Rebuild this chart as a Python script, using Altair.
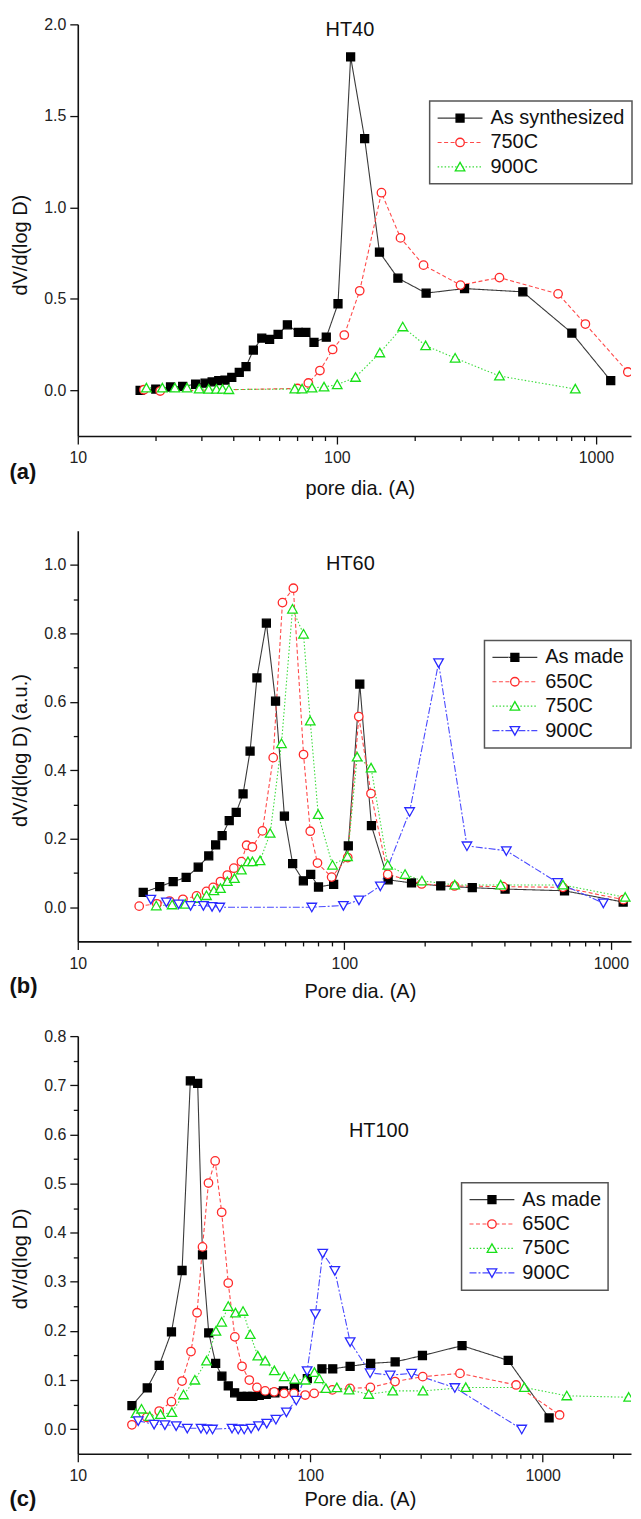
import altair as alt
import pandas as pd

F = "Liberation Sans"

# ---------------- Panel (a) HT40 ----------------
A_NAMES = ["As synthesized", "750C", "900C"]
A_SYN_X = [17.4, 20.0, 22.8, 25.4, 28.5, 31.0, 33.0, 35.0, 37.0, 39.3, 42.0, 44.6, 47.6, 51.3, 55.0,
           59.3, 64.4, 71.0, 75.9, 81.6, 91.0, 101, 113, 128, 146, 172, 221, 311, 522, 807, 1140]
A_SYN_Y = [0.0, 0.007, 0.018, 0.022, 0.033, 0.039, 0.046, 0.053, 0.056, 0.07, 0.098, 0.13, 0.22, 0.285, 0.278,
           0.305, 0.358, 0.316, 0.316, 0.262, 0.29, 0.473, 1.822, 1.375, 0.755, 0.613, 0.531, 0.556, 0.538, 0.313, 0.053]
A_750_X = [18.0, 20.8, 70.5, 77.6, 86.0, 96.3, 106.8, 122.5, 148.6, 176, 216, 300, 424, 714, 910, 1327]
A_750_Y = [0.003, -0.004, 0.01, 0.04, 0.108, 0.223, 0.302, 0.544, 1.08, 0.833, 0.684, 0.575, 0.616, 0.527, 0.362, 0.10]
A_900_X = [18.4, 21.2, 23.7, 26.4, 29.4, 32.0, 34.3, 36.2, 38.3, 68.8, 73.4, 80.2, 89.2, 100.3, 118, 146.5,
           179.5, 220, 286, 424, 832]
A_900_Y = [0.013, 0.013, 0.013, 0.013, 0.007, 0.006, 0.006, 0.006, 0.004, 0.007, 0.007, 0.013, 0.018, 0.031,
           0.071, 0.205, 0.347, 0.244, 0.176, 0.078, 0.007]

# ---------------- Panel (b) HT60 ----------------
B_NAMES = ["As made", "650C", "750C", "900C"]
B_MADE_X = [17.6, 20.3, 22.8, 25.5, 28.3, 31.0, 32.9, 34.8, 37.0, 39.3, 41.7, 44.3, 47.0, 51.0, 55.2, 59.6,
            64.0, 70.2, 74.8, 80.0, 91.2, 103.5, 114.3, 126.4, 146, 178.7, 230, 302, 401, 670, 1112]
B_MADE_Y = [0.043, 0.06, 0.075, 0.087, 0.117, 0.15, 0.182, 0.209, 0.253, 0.277, 0.331, 0.456, 0.67, 0.83, 0.602,
            0.266, 0.127, 0.077, 0.096, 0.059, 0.067, 0.179, 0.652, 0.238, 0.08, 0.071, 0.062, 0.057, 0.053, 0.048, 0.015]
B_650_X = [17.0, 19.8, 22.1, 24.8, 27.9, 30.4, 32.2, 34.3, 36.4, 38.5, 41.1, 43.0, 45.2, 49.3, 54.1, 58.6, 64.4,
           70.3, 74.5, 79.3, 89.6, 103, 113.3, 125.9, 145.5, 195, 259, 394, 661, 1114]
B_650_Y = [0.003, 0.01, 0.018, 0.023, 0.033, 0.046, 0.058, 0.075, 0.094, 0.114, 0.133, 0.181, 0.176, 0.223, 0.437,
           0.89, 0.932, 0.446, 0.222, 0.129, 0.088, 0.145, 0.557, 0.332, 0.096, 0.068, 0.062, 0.06, 0.058, 0.022]
B_750_X = [19.7, 22.6, 25.3, 28.1, 30.4, 32.4, 34.3, 36.4, 38.7, 41.1, 43.5, 45.2, 48.3, 52.7, 58.1, 63.9, 70.3,
           74.5, 79.8, 90.3, 102.8, 111.7, 126, 145.5, 169, 195.5, 259.6, 386, 661, 1132]
B_750_Y = [0.004, 0.007, 0.009, 0.026, 0.034, 0.048, 0.055, 0.075, 0.084, 0.109, 0.133, 0.133, 0.136, 0.216,
           0.478, 0.871, 0.798, 0.544, 0.271, 0.123, 0.148, 0.439, 0.407, 0.123, 0.096, 0.077, 0.065, 0.065,
           0.065, 0.029]
B_900_X = [18.8, 21.5, 23.9, 26.5, 29.6, 31.9, 34.1, 75.5, 99.2, 113.5, 136.5, 175.8, 225.7, 288.4, 405.4, 631, 937]
B_900_Y = [0.023, 0.015, 0.009, 0.005, 0.005, 0.002, 0.0, 0.0, 0.005, 0.021, 0.062, 0.279, 0.714, 0.179, 0.165,
           0.072, 0.012]

# ---------------- Panel (c) HT100 ----------------
C_NAMES = ["As made", "650C", "750C", "900C"]
C_MADE_X = [17.1, 19.9, 22.4, 25.3, 28.1, 30.5, 32.8, 34.4, 36.6, 39.2, 41.7, 44.4, 47.3, 50.5, 53.6, 56.6, 60.4,
            64.7, 70.5, 76.7, 85.5, 97.2, 112.3, 125, 148.5, 182, 232, 304, 450, 711, 1066]
C_MADE_Y = [0.048, 0.084, 0.13, 0.198, 0.323, 0.709, 0.704, 0.355, 0.196, 0.134, 0.108, 0.088, 0.074, 0.067,
            0.067, 0.067, 0.069, 0.071, 0.074, 0.078, 0.085, 0.103, 0.123, 0.123, 0.128, 0.134, 0.137, 0.15, 0.17,
            0.14, 0.023]
C_650_X = [17.1, 19.8, 22.4, 25.3, 28.1, 30.7, 32.6, 34.4, 36.5, 39.0, 41.6, 44.4, 47.4, 50.9, 54.7, 59.0, 64.0,
           70.0, 77.2, 85.1, 95.2, 104, 124.5, 148.3, 181.5, 231.7, 305, 441, 769, 1183]
C_650_Y = [0.009, 0.024, 0.037, 0.056, 0.098, 0.158, 0.237, 0.371, 0.501, 0.546, 0.4415, 0.2975, 0.188, 0.128,
           0.1, 0.085, 0.078, 0.076, 0.073, 0.073, 0.0696, 0.073, 0.08, 0.083, 0.085, 0.097, 0.107, 0.1136, 0.09,
           0.029]
C_750_X = [17.8, 18.8, 20.4, 22.7, 25.4, 28.5, 31.9, 35.8, 39.3, 41.6, 44.4, 47.7, 51.4, 55.2, 59.5, 64.0, 70.1,
           77.3, 85.7, 95.2, 104.3, 109.4, 116.8, 130.2, 147, 178.6, 226.5, 305.5, 467, 834, 1270, 2345]
C_750_Y = [0.032, 0.041, 0.026, 0.030, 0.034, 0.07, 0.1, 0.139, 0.1995, 0.218, 0.25, 0.2366, 0.24, 0.1927, 0.149,
           0.139, 0.119, 0.107, 0.102, 0.1, 0.1156, 0.103, 0.083, 0.0845, 0.08, 0.071, 0.078, 0.078, 0.085, 0.085,
           0.068, 0.065]
C_900_X = [18.2, 21.3, 23.7, 26.5, 29.6, 33.9, 35.9, 38.0, 46.1, 49.0, 52.0, 55.7, 59.9, 65.0, 71.2, 79.0, 87.1,
           97.0, 105.3, 113.2, 127.6, 148.5, 181, 221, 273, 419, 813]
C_900_Y = [0.017, 0.010, 0.009, 0.007, 0.002, 0.002, 0.0, 0.0, 0.002, 0.0, 0.0, 0.002, 0.007, 0.012, 0.02, 0.035,
           0.059, 0.119, 0.235, 0.358, 0.323, 0.178, 0.1146, 0.11, 0.1136, 0.0845, 0.0]

# axis tick values
X_MAJOR = [10, 100, 1000]
X_MINOR = [20, 30, 40, 50, 60, 70, 80, 90, 200, 300, 400, 500, 600, 700, 800, 900, 2000]
A_Y_MAJOR = [0.0, 0.5, 1.0, 1.5, 2.0]
B_Y_MAJOR = [0.0, 0.2, 0.4, 0.6, 0.8, 1.0]
B_Y_MINOR = [0.1, 0.3, 0.5, 0.7, 0.9]
C_Y_MAJOR = [0.0, 0.1, 0.2, 0.3, 0.4, 0.5, 0.6, 0.7, 0.8]
C_Y_MINOR = [0.05, 0.15, 0.25, 0.35, 0.45, 0.55, 0.65, 0.75]

# styles (symbol paths in units of sqrt(SYM)/2 = 9 px)
SYM = 324
SQUARE = "M-0.444,-0.444H0.444V0.444H-0.444Z"
CIRCLE = "M-0.472,0A0.472,0.472 0 1,0 0.472,0A0.472,0.472 0 1,0 -0.472,0Z"
TRI_UP = "M0,-0.51L0.533,0.44L-0.533,0.44Z"
TRI_DOWN = "M0,0.51L0.533,-0.44L-0.533,-0.44Z"
LINE_SAMPLE = "M-2.5,0H2.5"
BLACK_L, RED_L, GREEN_L, BLUE_L = "#3a3a3a", "#ff4a4a", "#3ddc3d", "#4a4aff"
BLACK_M, RED_M, GREEN_M, BLUE_M = "#000000", "#ff2a2a", "#19e019", "#2a2aff"
SOLID, DASH, DOT, DASHDOT = [1, 0], [4, 2.5], [1.5, 2], [7, 2, 2, 2]


def make_panel(names, xs, ys, line_colors, mark_colors, fills, shapes, dashes, xmax, ydom, height,
               y_major, y_minor, y_title, x_title, letter, letter_y, x_title_y, y_title_y, ht, ht_offset,
               ht_dx, leg_x, leg_y):
    rows = []
    for i, (n, xl, yl) in enumerate(zip(names, xs, ys)):
        for x, y in zip(xl, yl):
            rows.append({"d": x, "v": y, "series": n, "key": f"{i}|{n}"})
    df = pd.DataFrame(rows)

    xscale = alt.Scale(type="log", domain=[10, xmax], nice=False)
    yscale = alt.Scale(domain=ydom, nice=False, zero=False)

    x_major = alt.Axis(values=X_MAJOR, format="d", tickSize=8, labelPadding=6, labelFlush=False,
                       grid=False, orient="bottom", title=x_title, titleX=283, titleY=x_title_y,
                       titleBaseline="middle", titleAlign="center", titleAngle=0)
    x_minor = alt.Axis(values=X_MINOR, labels=False, tickSize=4.5, domain=False, grid=False,
                       orient="bottom", title=letter, titleX=-69, titleY=letter_y, titleAlign="left",
                       titleBaseline="middle", titleFontSize=22, titleFontWeight="bold", titleAngle=0)
    y_major_ax = alt.Axis(values=y_major, format=".1f", tickSize=8, labelPadding=4, grid=False,
                          orient="left", title=y_title, titleX=-57, titleY=y_title_y,
                          titleAngle=270, titleBaseline="middle", titleAlign="center")
    if y_minor:
        y_minor_ax = alt.Axis(values=y_minor, labels=False, tickSize=4.5, domain=False, grid=False,
                              orient="left", title=None)
    else:
        y_minor_ax = None

    common = dict(title=None, orient="none", legendX=leg_x, legendY=leg_y, direction="vertical",
                  symbolSize=SYM, symbolOffset=13.5, labelFontSize=20, labelFont=F, padding=7,
                  rowPadding=4.5, labelOffset=20.5)
    leg_lines = alt.Legend(symbolType=LINE_SAMPLE, symbolStrokeWidth=1.2, labelOpacity=0, **common)
    leg_marks = alt.Legend(symbolStrokeWidth=1.3, labelColor="#111",
                           labelExpr="split(datum.label, '|')[1]", strokeColor="#555", **common)

    lines = alt.Chart(df).mark_line(clip=True, strokeWidth=1.1).encode(
        x=alt.X("d:Q", scale=xscale, axis=x_major),
        y=alt.Y("v:Q", scale=yscale, axis=y_major_ax),
        color=alt.Color("series:N", scale=alt.Scale(domain=names, range=line_colors), legend=leg_lines),
        strokeDash=alt.StrokeDash("series:N", scale=alt.Scale(domain=names, range=dashes), legend=leg_lines),
    )
    points = alt.Chart(df).mark_point(clip=True, size=SYM, opacity=1, strokeWidth=1.3, filled=False).encode(
        x=alt.X("d:Q", scale=xscale, axis=x_minor),
        y=alt.Y("v:Q", scale=yscale, axis=y_minor_ax),
        shape=alt.Shape("key:N", scale=alt.Scale(range=shapes), legend=leg_marks),
        fill=alt.Fill("key:N", scale=alt.Scale(range=fills), legend=leg_marks),
        stroke=alt.Stroke("key:N", scale=alt.Scale(range=mark_colors), legend=leg_marks),
    )
    return alt.layer(lines, points).resolve_axis(x="independent", y="independent").properties(
        width=555, height=height,
        title=alt.TitleParams(text=ht, fontSize=20, fontWeight="normal", font=F, color="#111",
                              anchor="middle", frame="group", offset=ht_offset, dx=ht_dx,
                              baseline="middle"),
    )


pa = make_panel(A_NAMES, [A_SYN_X, A_750_X, A_900_X], [A_SYN_Y, A_750_Y, A_900_Y],
                [BLACK_L, RED_L, GREEN_L], [BLACK_M, RED_M, GREEN_M], [BLACK_M, "white", "white"],
                [SQUARE, CIRCLE, TRI_UP], [SOLID, DASH, DOT], 1365, [-0.25, 2.0], 413,
                A_Y_MAJOR, None, "dV/d(log D)", "pore dia. (A)", "(a)", 36, 53, 221,
                "HT40", -34, -4.5, 353, 77)
pb = make_panel(B_NAMES, [B_MADE_X, B_650_X, B_750_X, B_900_X], [B_MADE_Y, B_650_Y, B_750_Y, B_900_Y],
                [BLACK_L, RED_L, GREEN_L, BLUE_L], [BLACK_M, RED_M, GREEN_M, BLUE_M],
                [BLACK_M, "white", "white", "white"], [SQUARE, CIRCLE, TRI_UP, TRI_DOWN],
                [SOLID, DASH, DOT, DASHDOT], 1190, [-0.1, 1.1], 412,
                B_Y_MAJOR, B_Y_MINOR, "dV/d(log D) (a.u.)", "Pore dia. (A)", "(b)", 44, 50, 220,
                "HT60", -53, -4, 408, 110)
pc = make_panel(C_NAMES, [C_MADE_X, C_650_X, C_750_X, C_900_X], [C_MADE_Y, C_650_Y, C_750_Y, C_900_Y],
                [BLACK_L, RED_L, GREEN_L, BLUE_L], [BLACK_M, RED_M, GREEN_M, BLUE_M],
                [BLACK_M, "white", "white", "white"], [SQUARE, CIRCLE, TRI_UP, TRI_DOWN],
                [SOLID, DASH, DOT, DASHDOT], 2400, [-0.05, 0.8], 419,
                C_Y_MAJOR, C_Y_MINOR, "dV/d(log D)", "Pore dia. (A)", "(c)", 45, 46, 223,
                "HT100", -123, 24.5, 385, 147)

IND = "independent"
chart = alt.vconcat(pa, pb, pc, spacing=95, bounds="flush").resolve_scale(
    color=IND, strokeDash=IND, shape=IND, fill=IND, stroke=IND
).resolve_legend(
    color=IND, strokeDash=IND, shape=IND, fill=IND, stroke=IND
).configure_view(stroke=None).configure_axis(
    labelFont=F, labelFontSize=16, labelColor="#222", titleFont=F, titleFontSize=20,
    titleFontWeight="normal", titleColor="#111", domainColor="#111", tickColor="#111",
    domainWidth=1.6, tickWidth=1.3,
).configure_legend(strokeWidth=1.5).properties(
    padding={"left": 1, "top": 6, "right": 0, "bottom": 0}, background="white"
)

chart.save("out.html", embed_options={"renderer": "svg", "actions": False})
